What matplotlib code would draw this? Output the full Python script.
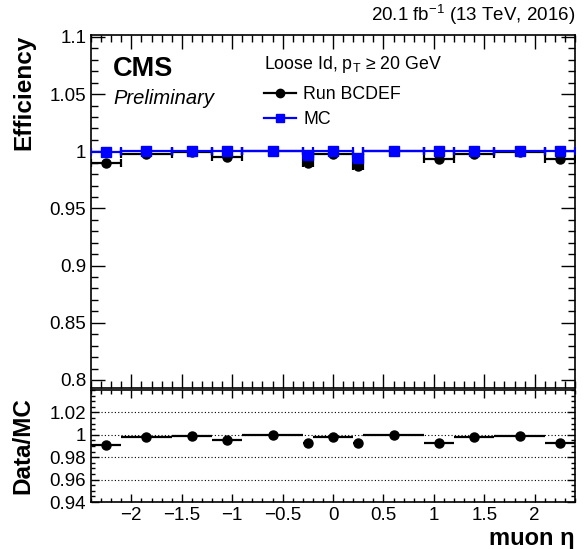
import numpy as np
import matplotlib
matplotlib.use('Agg')
import matplotlib.pyplot as plt
from matplotlib.lines import Line2D
from matplotlib.ticker import MultipleLocator

plt.rcParams['font.family'] = ['Liberation Sans', 'DejaVu Sans']
plt.rcParams['mathtext.fontset'] = 'custom'
plt.rcParams['mathtext.rm'] = 'Liberation Sans'
plt.rcParams['mathtext.it'] = 'Liberation Sans:italic'
plt.rcParams['mathtext.bf'] = 'Liberation Sans:bold'

# eta bin edges
eta_edges = [-2.4, -2.1, -1.6, -1.2, -0.9, -0.3, -0.2, 0.2, 0.3, 0.9, 1.2, 1.6, 2.1, 2.4]
eff_data = [0.990, 0.998, 0.999, 0.995, 1.000, 0.9895, 0.998, 0.987, 1.000, 0.993, 0.998, 0.999, 0.993]
eff_mc = [0.999, 1.000, 1.000, 1.000, 1.000, 0.997, 1.000, 0.994, 1.000, 1.000, 1.000, 1.000, 1.000]

edges = np.array(eta_edges)
centers = 0.5 * (edges[1:] + edges[:-1])
xerr = 0.5 * (edges[1:] - edges[:-1])
eff_data = np.array(eff_data)
eff_mc = np.array(eff_mc)
ratio = eff_data / eff_mc

fig = plt.figure(figsize=(5.86, 5.49), dpi=100)
ax = fig.add_axes([0.1553, 0.2933, 0.826, 0.643])
axr = fig.add_axes([0.1553, 0.0856, 0.826, 0.204])

ax.errorbar(centers, eff_data, xerr=xerr, yerr=0.0003, fmt='o', color='black',
            markersize=6.5, elinewidth=1.6, capsize=3, capthick=1.6, zorder=3)
ax.errorbar(centers, eff_mc, xerr=xerr, yerr=0.0003, fmt='s', color='#0000ff',
            markersize=7, elinewidth=1.6, capsize=3, capthick=1.6, zorder=4)

ax.set_xlim(-2.4, 2.4)
ax.set_ylim(0.793, 1.1017)
ax.yaxis.set_minor_locator(MultipleLocator(0.01))
ax.xaxis.set_major_locator(MultipleLocator(0.5))
ax.xaxis.set_minor_locator(MultipleLocator(0.1))
ax.set_yticks([0.8, 0.85, 0.9, 0.95, 1.0, 1.05, 1.1])
ax.set_yticklabels(['0.8', '0.85', '0.9', '0.95', '1', '1.05', '1.1'])
ax.tick_params(which='both', direction='in', top=True, right=True, labelsize=13.5, labelbottom=False)
ax.tick_params(which='major', length=10, width=1)
ax.tick_params(which='minor', length=5, width=1)
for s in ax.spines.values():
    s.set_linewidth(1.2)

ax.set_ylabel('Efficiency', fontsize=17.5, fontweight='bold', loc='top')

ax.text(0.045, 0.905, 'CMS', transform=ax.transAxes, fontsize=19.5, fontweight='bold', va='center')
ax.text(0.047, 0.82, 'Preliminary', transform=ax.transAxes, fontsize=14.5, style='italic', va='center')

handles = [Line2D([], [], color='black', marker='o', markersize=6, lw=1.6),
           Line2D([], [], color='#0000ff', marker='s', markersize=6, lw=1.6)]
leg = ax.legend(handles, ['Run BCDEF', 'MC'], title='Loose Id, p$_{\\mathrm{T}}$ \u2265 20 GeV',
                loc='upper left', bbox_to_anchor=(0.358, 0.945), frameon=False, fontsize=12.8,
                title_fontsize=12.8, alignment='left', handlelength=1.8, handletextpad=0.4,
                labelspacing=0.45, borderaxespad=0, borderpad=0)
leg._legend_box.sep = 8

fig.text(0.9812, 0.972, r'20.1 fb$^{-1}$ (13 TeV, 2016)', ha='right', va='center', fontsize=13.5)

# ratio pad
axr.errorbar(centers, ratio, xerr=xerr, yerr=0.0003, fmt='o', color='black',
             markersize=6.5, elinewidth=1.6, capsize=0, zorder=3)
for yv in [0.96, 0.98, 1.0, 1.02]:
    axr.axhline(yv, color='black', linestyle=(0, (1, 2)), linewidth=0.8, zorder=1)
axr.set_xlim(-2.4, 2.4)
axr.set_ylim(0.94, 1.04)
axr.set_yticks([0.94, 0.96, 0.98, 1.0, 1.02])
axr.set_yticklabels(['0.94', '0.96', '0.98', '1', '1.02'])
axr.yaxis.set_minor_locator(MultipleLocator(0.005))
axr.xaxis.set_minor_locator(MultipleLocator(0.1))
axr.set_xticks([-2, -1.5, -1, -0.5, 0, 0.5, 1, 1.5, 2])
axr.set_xticklabels(['\u22122', '\u22121.5', '\u22121', '\u22120.5', '0', '0.5', '1', '1.5', '2'])
axr.tick_params(which='both', direction='in', top=True, right=True, labelsize=13.5)
axr.tick_params(which='major', length=6, width=1)
axr.tick_params(which='minor', length=3, width=1)
for s in axr.spines.values():
    s.set_linewidth(1.2)
axr.set_ylabel('Data/MC', fontsize=17.5, fontweight='bold')
axr.set_xlabel('muon \u03b7', fontsize=17, fontweight='bold', loc='right', labelpad=2)
ax.yaxis.set_label_coords(-0.115, 1.0)
axr.yaxis.set_label_coords(-0.118, 0.5)

fig.savefig('out.png', dpi=100)
